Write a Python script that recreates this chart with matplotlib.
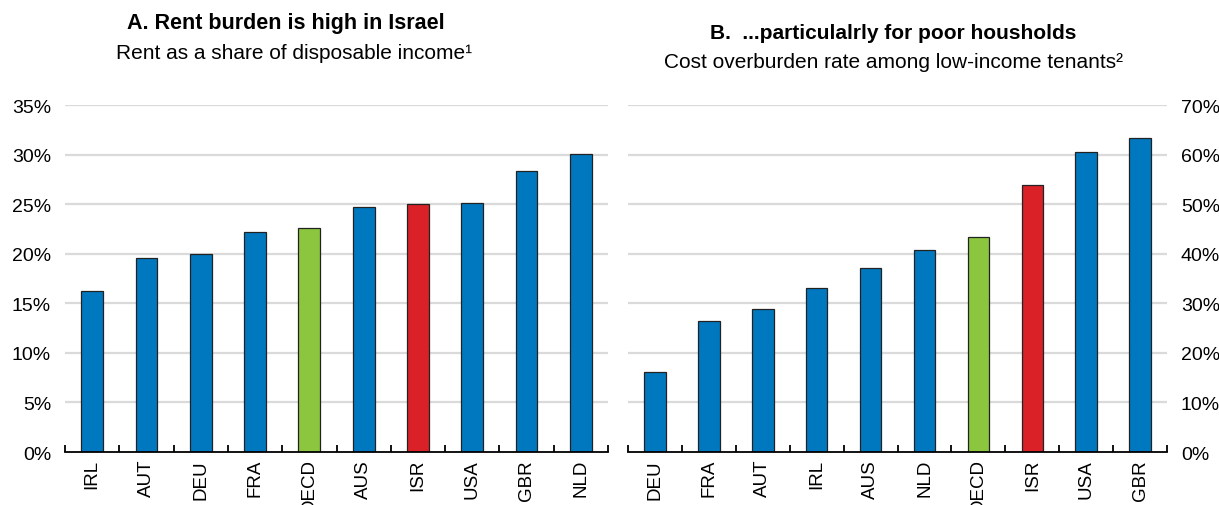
import matplotlib.pyplot as plt
import numpy as np

# Panel A: rent as a share of disposable income (%)
cats_a = ['IRL', 'AUT', 'DEU', 'FRA', 'OECD', 'AUS', 'ISR', 'USA', 'GBR', 'NLD']
vals_a = [16.2, 19.6, 20.0, 22.2, 22.6, 24.7, 25.0, 25.1, 28.3, 30.1]

# Panel B: cost overburden rate among low-income tenants (%)
cats_b = ['DEU', 'FRA', 'AUT', 'IRL', 'AUS', 'NLD', 'OECD', 'ISR', 'USA', 'GBR']
vals_b = [16.1, 26.4, 28.8, 33.1, 37.1, 40.8, 43.3, 53.8, 60.5, 63.3]

BLUE = '#0078BF'
GREEN = '#8CC63F'
RED = '#DA2128'
GRID = '#DADADA'

plt.rcParams['font.family'] = ['Liberation Sans', 'DejaVu Sans']


def colors_for(cats):
    return [GREEN if c == 'OECD' else RED if c == 'ISR' else BLUE for c in cats]


def draw_panel(ax, cats, vals, ymax, step, right=False):
    x = np.arange(len(cats))
    ax.bar(x, vals, width=0.4, color=colors_for(cats), edgecolor='#222222',
           linewidth=0.9, zorder=3)
    ax.set_xlim(-0.5, len(cats) - 0.5)
    ax.set_ylim(0, ymax)
    yt = np.arange(0, ymax + 0.01, step)
    ax.set_yticks(yt)
    ax.set_yticklabels([f'{int(v)}%' for v in yt], fontsize=14)
    for v in yt[1:]:
        ax.axhline(v, color=GRID, lw=1.6, zorder=1)
    ax.set_xticks(x)
    ax.set_xticklabels(cats, rotation=90, fontsize=13.5)
    ax.tick_params(axis='x', length=0, pad=5)
    ax.tick_params(axis='y', length=0, pad=10)
    # category separators pointing inward
    ax.set_xticks(np.arange(-0.5, len(cats)), minor=True)
    ax.tick_params(axis='x', which='minor', direction='in', length=5,
                   width=1.3, color='black')
    for s in ['top', 'left', 'right']:
        ax.spines[s].set_visible(False)
    ax.spines['bottom'].set_linewidth(1.3)
    ax.spines['bottom'].set_zorder(4)
    if right:
        ax.yaxis.tick_right()


fig = plt.figure(figsize=(12.19, 5.06), dpi=100)
ax1 = fig.add_axes([0.0533, 0.1047, 0.4455, 0.6858])
ax2 = fig.add_axes([0.5152, 0.1047, 0.4422, 0.6858])

draw_panel(ax1, cats_a, vals_a, 35, 5)
draw_panel(ax2, cats_b, vals_b, 70, 10, right=True)

fig.text(0.2345, 0.953, 'A. Rent burden is high in Israel', ha='center', va='center',
         fontsize=15.5, fontweight='bold')
fig.text(0.2415, 0.895, 'Rent as a share of disposable income¹', ha='center',
         va='center', fontsize=15)
fig.text(0.733, 0.934, 'B.  ...particulalrly for poor housholds', ha='center',
         va='center', fontsize=15, fontweight='bold')
fig.text(0.733, 0.877, 'Cost overburden rate among low-income tenants²', ha='center',
         va='center', fontsize=15)

fig.savefig('out.png', dpi=100)
